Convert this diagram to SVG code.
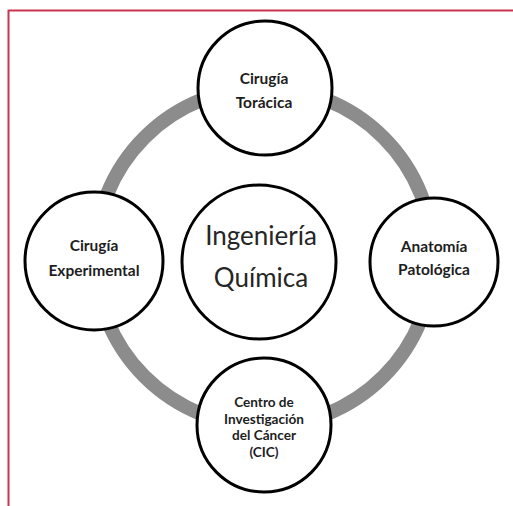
<svg xmlns="http://www.w3.org/2000/svg" width="513" height="506" viewBox="0 0 513 506">
<style>
.node{fill:#fff;stroke:#000;stroke-width:3}
.lbl{font-family:Lato,"Liberation Sans",sans-serif;font-weight:bold;font-size:15.5px;fill:#1e1e1e;text-anchor:middle}
.sm{font-size:13.6px}
.big{font-family:Lato,"Liberation Sans",sans-serif;font-size:26px;fill:#262626;text-anchor:middle}
.ring{fill:none;stroke:#8c8c8c;stroke-width:14}
</style>
<rect width="513" height="506" fill="#fff"/>
<path d="M8.5,506 V10.5 H513" fill="none" stroke="#c8354f" stroke-width="2"/>
<g id="connectors">
<circle class="ring" cx="264" cy="257" r="169"/>
</g>
<g id="n-center">
<circle class="node" cx="259" cy="262" r="77"/>
<text class="big" x="261" y="245">Ingeniería</text>
<text class="big" x="261" y="287">Química</text>
</g>
<g id="n-top">
<circle class="node" cx="265" cy="88" r="67"/>
<text class="lbl" x="264" y="84">Cirugía</text>
<text class="lbl" x="264" y="108">Torácica</text>
</g>
<g id="n-left">
<circle class="node" cx="94" cy="261" r="69"/>
<text class="lbl" x="94" y="251">Cirugía</text>
<text class="lbl" x="94" y="276">Experimental</text>
</g>
<g id="n-right">
<circle class="node" cx="434" cy="262" r="64"/>
<text class="lbl" x="434" y="252">Anatomía</text>
<text class="lbl" x="434" y="275">Patológica</text>
</g>
<g id="n-bottom">
<circle class="node" cx="264" cy="425" r="67"/>
<text class="lbl sm" x="264" y="407">Centro de</text>
<text class="lbl sm" x="264" y="423.5">Investigación</text>
<text class="lbl sm" x="264" y="440">del Cáncer</text>
<text class="lbl sm" x="264" y="456.5">(CIC)</text>
</g>
</svg>
